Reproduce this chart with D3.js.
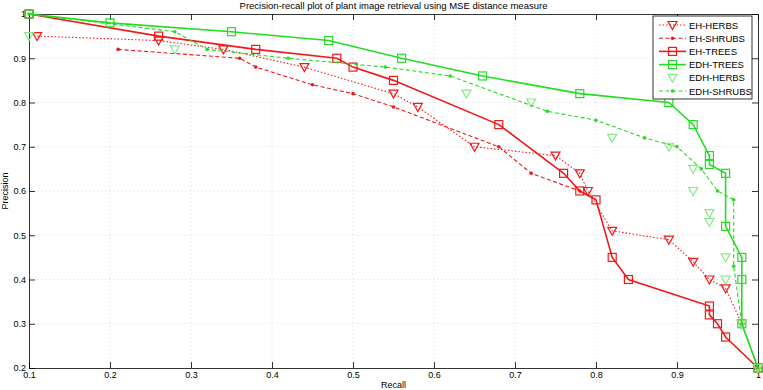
<!DOCTYPE html>
<html>
<head>
<meta charset="utf-8">
<script src="https://cdn.jsdelivr.net/npm/d3@7"></script>
<style>
  body { margin: 0; background: #fff; }
  svg { font-family: "Liberation Sans", Arial, sans-serif; }
  .axis path, .axis line { stroke: #000; stroke-width: 0.8; }
  .axis text { font-size: 9px; fill: #000; }
  .grid line { stroke: #c4c4c4; stroke-width: 0.6; stroke-dasharray: 1,3; }
</style>
</head>
<body>
<div class="container"></div>
<script>
const WIDTH = 763;
const HEIGHT = 390;
const LEFT = 29;
const RIGHT = 758;
const TOP = 14;
const BOTTOM = 368;

const RED = '#f01818';
const GREEN = '#22dd22';
const PALE_GREEN = '#88e888';

// tick values
var xTicks = [0.1, 0.2, 0.3, 0.4, 0.5, 0.6, 0.7, 0.8, 0.9, 1];
var yTicks = [0.2, 0.3, 0.4, 0.5, 0.6, 0.7, 0.8, 0.9, 1];

// series (recall, precision)
var ehHerbsRecall    = [0.11, 0.26, 0.34, 0.44, 0.55, 0.58, 0.65, 0.75, 0.78, 0.79, 0.82, 0.89, 0.92, 0.94, 0.96, 0.98, 1.0];
var ehHerbsPrecision = [0.95, 0.94, 0.92, 0.88, 0.82, 0.79, 0.70, 0.68, 0.64, 0.60, 0.51, 0.49, 0.44, 0.40, 0.38, 0.30, 0.20];

var ehShrubsRecall    = [0.21, 0.36, 0.38, 0.45, 0.50, 0.55, 0.68, 0.72, 0.78];
var ehShrubsPrecision = [0.92, 0.90, 0.88, 0.84, 0.82, 0.79, 0.70, 0.64, 0.60];

var ehTreesRecall    = [0.1, 0.26, 0.38, 0.48, 0.50, 0.55, 0.68, 0.76, 0.78, 0.80, 0.82, 0.84, 0.94, 0.94, 0.95, 0.96, 1.0];
var ehTreesPrecision = [1.0, 0.95, 0.92, 0.90, 0.88, 0.85, 0.75, 0.64, 0.60, 0.58, 0.45, 0.40, 0.34, 0.32, 0.30, 0.27, 0.20];

var edhTreesRecall    = [0.1, 0.2, 0.35, 0.47, 0.56, 0.66, 0.78, 0.89, 0.92, 0.94, 0.94, 0.96, 0.96, 0.98, 0.98, 0.98, 1.0];
var edhTreesPrecision = [1.0, 0.98, 0.96, 0.94, 0.90, 0.86, 0.82, 0.80, 0.75, 0.68, 0.66, 0.64, 0.52, 0.45, 0.40, 0.30, 0.20];

var edhHerbsRecall    = [0.1, 0.28, 0.64, 0.72, 0.82, 0.89, 0.92, 0.92, 0.94, 0.94, 0.96, 0.96, 0.98, 1.0];
var edhHerbsPrecision = [0.95, 0.92, 0.82, 0.80, 0.72, 0.70, 0.65, 0.60, 0.55, 0.53, 0.45, 0.40, 0.30, 0.20];

var edhShrubsRecall    = [0.1, 0.28, 0.32, 0.42, 0.54, 0.62, 0.74, 0.80, 0.86, 0.90, 0.93, 0.95, 0.97, 0.97, 0.98, 1.0];
var edhShrubsPrecision = [1.0, 0.96, 0.92, 0.90, 0.88, 0.86, 0.78, 0.76, 0.72, 0.70, 0.65, 0.60, 0.58, 0.43, 0.30, 0.20];

function zip(xs, ys) {
  return xs.map(function (x, i) { return { x: x, y: ys[i] }; });
}

var series = [
  { name: 'EH-HERBS', data: zip(ehHerbsRecall, ehHerbsPrecision), color: RED, dash: '1.5,2', width: 1.1, marker: 'tri', line: true },
  { name: 'EH-SHRUBS', data: zip(ehShrubsRecall, ehShrubsPrecision), color: RED, dash: '4,2.5', width: 1.1, marker: 'dot', line: true },
  { name: 'EH-TREES', data: zip(ehTreesRecall, ehTreesPrecision), color: RED, dash: null, width: 1.6, marker: 'square', line: true },
  { name: 'EDH-TREES', data: zip(edhTreesRecall, edhTreesPrecision), color: GREEN, dash: null, width: 1.6, marker: 'square', line: true },
  { name: 'EDH-HERBS', data: zip(edhHerbsRecall, edhHerbsPrecision), color: PALE_GREEN, dash: null, width: 1, marker: 'tri', line: false },
  { name: 'EDH-SHRUBS', data: zip(edhShrubsRecall, edhShrubsPrecision), color: GREEN, dash: '4,2.5', width: 1.1, marker: 'dot', line: true }
];

var svg = d3.select('.container').append('svg')
  .attr('width', WIDTH)
  .attr('height', HEIGHT);

var x = d3.scaleLinear().domain([0.1, 1]).range([LEFT, RIGHT]);
var y = d3.scaleLinear().domain([0.2, 1]).range([BOTTOM, TOP]);

// grid
var grid = svg.append('g').classed('grid', true);
grid.selectAll('.gx').data(xTicks.slice(1, -1)).enter().append('line')
  .attr('x1', function (d) { return x(d); }).attr('x2', function (d) { return x(d); })
  .attr('y1', TOP).attr('y2', BOTTOM);
grid.selectAll('.gy').data(yTicks.slice(1, -1)).enter().append('line')
  .attr('y1', function (d) { return y(d); }).attr('y2', function (d) { return y(d); })
  .attr('x1', LEFT).attr('x2', RIGHT);

// axes, ticks pointing inward like matlab
var fmt = function (d) { return String(+d.toFixed(1)); };

svg.append('g').classed('axis', true)
  .attr('transform', 'translate(0,' + BOTTOM + ')')
  .call(d3.axisBottom(x).tickValues(xTicks).tickFormat(fmt).tickSizeInner(-6).tickSizeOuter(0).tickPadding(4));
svg.append('g').classed('axis', true)
  .attr('transform', 'translate(' + LEFT + ',0)')
  .call(d3.axisLeft(y).tickValues(yTicks).tickFormat(fmt).tickSizeInner(-6).tickSizeOuter(0).tickPadding(3));
svg.append('g').classed('axis', true)
  .attr('transform', 'translate(0,' + TOP + ')')
  .call(d3.axisTop(x).tickValues(xTicks).tickFormat('').tickSizeInner(-6).tickSizeOuter(0));
svg.append('g').classed('axis', true)
  .attr('transform', 'translate(' + RIGHT + ',0)')
  .call(d3.axisRight(y).tickValues(yTicks).tickFormat('').tickSizeInner(-6).tickSizeOuter(0));

// markers
function drawMarker(g, type, color, cx, cy) {
  if (type === 'square') {
    g.append('rect')
      .attr('x', cx - 4).attr('y', cy - 4).attr('width', 8).attr('height', 8)
      .attr('fill', 'none').attr('stroke', color).attr('stroke-width', 1.2);
  } else if (type === 'tri') {
    g.append('path')
      .attr('d', 'M' + (cx - 4.5) + ',' + (cy - 3.5) + 'L' + (cx + 4.5) + ',' + (cy - 3.5) + 'L' + cx + ',' + (cy + 4.5) + 'Z')
      .attr('fill', 'none').attr('stroke', color).attr('stroke-width', 1.2);
  } else {
    g.append('circle')
      .attr('cx', cx).attr('cy', cy).attr('r', 1.8)
      .attr('fill', color);
  }
}

var plot = svg.append('g');
var line = d3.line()
  .x(function (d) { return x(d.x); })
  .y(function (d) { return y(d.y); });

series.forEach(function (s) {
  var g = plot.append('g');
  if (s.line) {
    g.append('path')
      .attr('d', line(s.data))
      .attr('fill', 'none')
      .attr('stroke', s.color)
      .attr('stroke-width', s.width)
      .attr('stroke-dasharray', s.dash);
  }
  s.data.forEach(function (d) {
    drawMarker(g, s.marker, s.color, x(d.x), y(d.y));
  });
});

// legend
var legend = svg.append('g').attr('transform', 'translate(653,16)');
legend.append('rect')
  .attr('width', 99).attr('height', 83)
  .attr('fill', '#fff').attr('stroke', '#000').attr('stroke-width', 0.8);
series.forEach(function (s, i) {
  var ly = 9 + i * 13.2;
  var row = legend.append('g');
  if (s.line) {
    row.append('line')
      .attr('x1', 6).attr('x2', 33).attr('y1', ly).attr('y2', ly)
      .attr('stroke', s.color).attr('stroke-width', s.width)
      .attr('stroke-dasharray', s.dash);
  }
  drawMarker(row, s.marker, s.color, 19.5, ly);
  row.append('text')
    .attr('x', 36).attr('y', ly + 3.5)
    .attr('font-size', '9.5px')
    .text(s.name);
});

// titles
svg.append('text')
  .attr('x', (LEFT + RIGHT) / 2).attr('y', 9)
  .attr('text-anchor', 'middle').attr('font-size', '9.5px')
  .text('Precision-recall plot of plant image retrieval using MSE distance measure');
svg.append('text')
  .attr('x', (LEFT + RIGHT) / 2).attr('y', 388)
  .attr('text-anchor', 'middle').attr('font-size', '9px')
  .text('Recall');
svg.append('text')
  .attr('transform', 'translate(8,' + (TOP + BOTTOM) / 2 + ') rotate(-90)')
  .attr('text-anchor', 'middle').attr('font-size', '9px')
  .text('Precision');
</script>
</body>
</html>
